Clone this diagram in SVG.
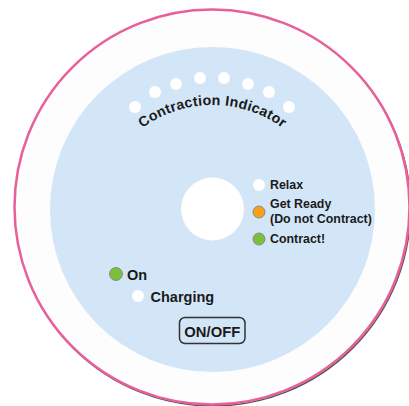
<svg xmlns="http://www.w3.org/2000/svg" width="409" height="406" viewBox="0 0 409 406">
<style>
text{font-family:"Liberation Sans",Arial,sans-serif;font-weight:bold;fill:#1a1a1a}
.w{fill:#ffffff}
.led{stroke:#8a8a8a;stroke-width:1}
.lbl{font-size:12.4px}
</style>
<defs>
<path id="arc" d="M 110.3 164 A 118 118 0 0 1 314.7 164"/>
</defs>
<rect width="409" height="406" fill="#ffffff"/>
<g id="body">
<circle cx="213" cy="208.5" r="197.5" fill="none" stroke="#555" stroke-width="1.5"/>
<circle cx="212" cy="207" r="197.5" fill="#fdfdfd" stroke="#e8609a" stroke-width="2.5"/>
<circle cx="212.5" cy="209.5" r="162.5" fill="#d3e6f7"/>
<circle cx="212.5" cy="209" r="31.5" fill="#ffffff"/>
</g>
<g id="contraction-indicator">
<circle class="w" cx="135" cy="107" r="6"/>
<circle class="w" cx="155" cy="92" r="6"/>
<circle class="w" cx="176" cy="84" r="6"/>
<circle class="w" cx="200" cy="78" r="6"/>
<circle class="w" cx="224" cy="78" r="6"/>
<circle class="w" cx="248" cy="84" r="6"/>
<circle class="w" cx="269" cy="92" r="6"/>
<circle class="w" cx="289" cy="107" r="6"/>
<text font-size="14.2"><textPath href="#arc" startOffset="50%" text-anchor="middle" letter-spacing="0.3">Contraction Indicator</textPath></text>
</g>
<g id="relax">
<circle class="w" cx="259" cy="185" r="6"/>
<text class="lbl" x="270" y="189">Relax</text>
</g>
<g id="get-ready">
<circle class="led" cx="259" cy="212" r="6" fill="#f7a11a"/>
<text class="lbl" x="270" y="208">Get Ready</text>
<text class="lbl" x="270" y="223">(Do not Contract)</text>
</g>
<g id="contract">
<circle class="led" cx="259" cy="239" r="6" fill="#7cbf3f"/>
<text class="lbl" x="270" y="243">Contract!</text>
</g>
<g id="on">
<circle class="led" cx="116" cy="274" r="6.5" fill="#7cbf3f"/>
<text font-size="14.5" x="127" y="280">On</text>
</g>
<g id="charging">
<circle class="w" cx="138" cy="296" r="6"/>
<text font-size="14.5" x="150.5" y="302">Charging</text>
</g>
<g id="onoff">
<rect x="179.5" y="317.5" width="65.5" height="26" rx="5.5" fill="#d3e6f7" stroke="#333" stroke-width="1.5"/>
<text font-size="14.8" x="212.3" y="336.5" text-anchor="middle">ON/OFF</text>
</g>
<g id="connectors"/>
</svg>
